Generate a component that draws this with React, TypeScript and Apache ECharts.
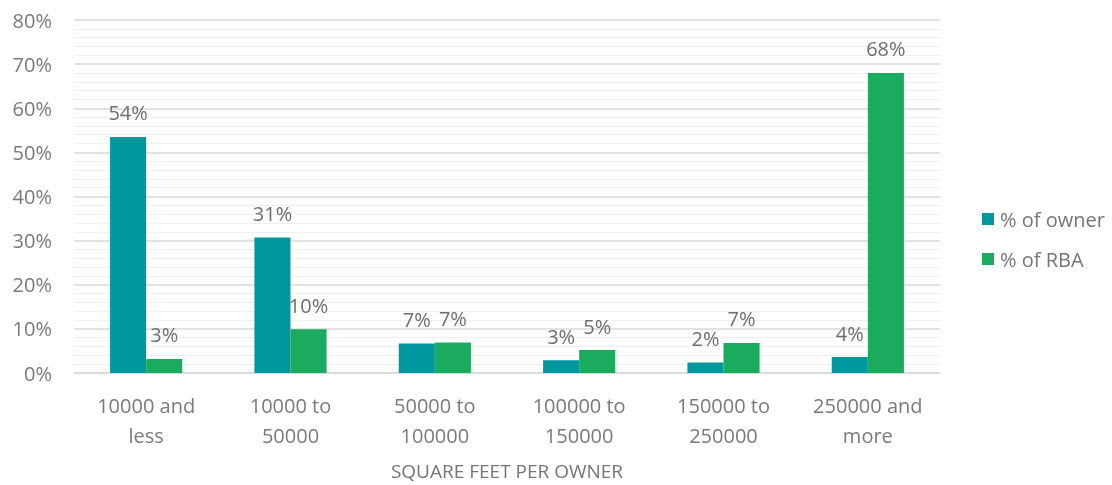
import React, { useEffect, useRef } from "react";
import * as echarts from "echarts";

const categories = ["10000 and\nless", "10000 to\n50000", "50000 to\n100000", "100000 to\n150000", "150000 to\n250000", "250000 and\nmore"];
const ownerPct = [53.5, 30.7, 6.7, 2.9, 2.4, 3.6];
const rbaPct = [3.2, 9.9, 6.9, 5.2, 6.8, 68.0];
const seriesNames = ["% of owner", "% of RBA"];
const xTitle = "SQUARE FEET PER OWNER";

const FONT = "'Open Sans', sans-serif";

export default function App() {
  const ref = useRef<HTMLDivElement>(null);
  useEffect(() => {
    if (!ref.current) return;
    const chart = echarts.init(ref.current, undefined, { renderer: "svg" });
    const labelCfg = {
      show: true,
      position: "top",
      distance: 14,
      color: "#6e6e6e",
      fontSize: 20,
      fontFamily: FONT,
      formatter: (p: any) => Math.round(p.value) + "%",
    };
    chart.setOption({
      animation: false,
      textStyle: { fontFamily: FONT },
      grid: { left: 74, right: 172, top: 20, bottom: 110, containLabel: false },
      legend: {
        orient: "vertical",
        left: 977,
        top: 204,
        itemWidth: 12,
        itemHeight: 12,
        itemGap: 20,
        icon: "rect",
        textStyle: { color: "#757575", fontSize: 20, fontFamily: FONT, padding: [0, 0, 0, 1] },
        data: seriesNames,
      },
      xAxis: {
        type: "category",
        data: categories,
        name: xTitle,
        nameLocation: "middle",
        nameGap: 88,
        nameTextStyle: { color: "#757575", fontSize: 19, fontFamily: FONT },
        axisLine: { lineStyle: { color: "#d9d9d9", width: 1.5 } },
        axisTick: { show: false },
        axisLabel: { color: "#7a7a7a", fontSize: 20, fontFamily: FONT, lineHeight: 30, margin: 17 },
      },
      yAxis: {
        type: "value",
        min: 0,
        max: 80,
        interval: 10,
        axisLine: { show: false },
        axisTick: { show: false },
        axisLabel: { color: "#7a7a7a", fontSize: 20, fontFamily: FONT, formatter: "{value}%", margin: 22 },
        splitLine: { lineStyle: { color: "#d9d9d9", width: 1.5 } },
        minorTick: { show: false, splitNumber: 5 },
        minorSplitLine: { show: true, lineStyle: { color: "#efefef", width: 1 } },
      },
      series: [
        {
          name: seriesNames[0],
          type: "bar",
          data: ownerPct,
          barGap: "0%",
          barCategoryGap: "50%",
          itemStyle: { color: "#00979f" },
          label: labelCfg,
        },
        {
          name: seriesNames[1],
          type: "bar",
          data: rbaPct,
          itemStyle: { color: "#1aab5f" },
          label: labelCfg,
        },
      ],
    });
    return () => chart.dispose();
  }, []);
  return <div ref={ref} style={{ position: "fixed", left: 0, top: 0, width: 1112, height: 485 }} />;
}
